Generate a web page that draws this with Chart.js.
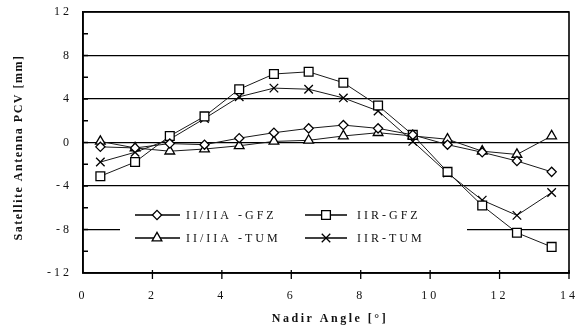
<!DOCTYPE html>
<html><head><meta charset="utf-8">
<script src="https://cdn.jsdelivr.net/npm/chart.js@4/dist/chart.umd.min.js"></script>
<style>html,body{margin:0;padding:0;background:#fff}#wrap{width:577px;height:335px;position:relative}</style>
</head><body><div id="wrap"><canvas id="c"></canvas></div>
<script>
// ---- data ----
const nadirAngles = [0.5,1.5,2.5,3.5,4.5,5.5,6.5,7.5,8.5,9.5,10.5,11.5,12.5,13.5];
const iiGfz  = [-0.4,-0.5,-0.1,-0.2,0.4,0.9,1.3,1.6,1.3,0.7,-0.2,-0.9,-1.7,-2.7];
const iirGfz = [-3.1,-1.8,0.6,2.4,4.9,6.3,6.5,5.5,3.4,0.7,-2.7,-5.8,-8.3,-9.6];
const iiTum  = [0.1,-0.5,-0.8,-0.6,-0.3,0.1,0.2,0.6,0.9,0.6,0.3,-0.8,-1.1,0.6];
const iirTum = [-1.8,-0.9,0.3,2.2,4.2,5.0,4.9,4.1,2.9,0.1,-2.8,-5.3,-6.7,-4.6];
const seriesNames = ['II/IIA -GFZ','IIR-GFZ','II/IIA -TUM','IIR-TUM'];
const xAxisTitle = 'Nadir Angle [°]';
const yAxisTitle = 'Satellite Antenna PCV [mm]';
const xRange = [0,14];
const yRange = [-12,12];

const pts = arr => arr.map((v,i)=>({x:nadirAngles[i], y:v}));
const styles = ['rectRot','rect','triangle','crossRot'];
const radii = [4.6,6.2,5.6,6];
const values = [iiGfz, iirGfz, iiTum, iirTum];

const datasets = values.map((v,i)=>({
  label: seriesNames[i],
  data: pts(v),
  borderColor:'#1a1a1a',
  borderWidth:1,
  pointStyle: styles[i],
  pointRadius: radii[i],
  pointBorderWidth:1.3,
  pointBorderColor:'#000',
  pointBackgroundColor:'#fff',
  tension:0
}));

function drawMarker(ctx, style, r, x, y){
  ctx.beginPath();
  if(style==='rectRot'){ ctx.moveTo(x-r,y); ctx.lineTo(x,y-r); ctx.lineTo(x+r,y); ctx.lineTo(x,y+r); ctx.closePath(); }
  else if(style==='rect'){ const s=Math.SQRT1_2*r; ctx.rect(x-s,y-s,2*s,2*s); }
  else if(style==='triangle'){
    for(let k=0;k<3;k++){ const a=k*2*Math.PI/3; const px=x+Math.sin(a)*r, py=y-Math.cos(a)*r; k?ctx.lineTo(px,py):ctx.moveTo(px,py);} ctx.closePath(); }
  if(style!=='crossRot'){ ctx.fillStyle='#fff'; ctx.fill(); ctx.stroke(); }
  else { const s=Math.SQRT1_2*r; ctx.moveTo(x-s,y-s); ctx.lineTo(x+s,y+s); ctx.moveTo(x+s,y-s); ctx.lineTo(x-s,y+s); ctx.stroke(); }
}

const framePlugin = {
  id:'frame',
  beforeDraw(chart){ chart.ctx.letterSpacing='3px'; },
  afterDraw(chart){
    const {ctx, chartArea:a, scales} = chart;
    const xs = scales.x, ys = scales.y;
    ctx.save();
    ctx.letterSpacing='0px';
    ctx.strokeStyle='#000';
    ctx.lineWidth=1.6;
    ctx.strokeRect(a.left,a.top,a.right-a.left,a.bottom-a.top);
    // tick marks
    ctx.lineWidth=1.3;
    ctx.beginPath();
    for(let v=yRange[0]+2; v<yRange[1]; v+=2){ const p=ys.getPixelForValue(v); ctx.moveTo(a.left,p); ctx.lineTo(a.left+5,p); }
    for(let v=xRange[0]+2; v<=xRange[1]; v+=2){ const p=xs.getPixelForValue(v); ctx.moveTo(p,a.bottom-3); ctx.lineTo(p,a.bottom+6); }
    ctx.stroke();
    // legend
    const lx0=a.left+37, lx1=a.left+384, ly0=a.top+192, ly1=a.top+240;
    ctx.fillStyle='#fff';
    ctx.fillRect(lx0,ly0,lx1-lx0,ly1-ly0);
    const cols=[{l0:a.left+52,l1:a.left+97,m:a.left+74,t:a.left+103},{l0:a.left+222,l1:a.left+264,m:a.left+243,t:a.left+274}];
    const rows=[a.top+203,a.top+226];
    const legR=[4.6,6.2,5.6,6];
    seriesNames.forEach((name,i)=>{
      const c=cols[i%2], yy=rows[Math.floor(i/2)];
      ctx.strokeStyle='#000'; ctx.lineWidth=1.4;
      ctx.beginPath(); ctx.moveTo(c.l0,yy); ctx.lineTo(c.l1,yy); ctx.stroke();
      ctx.lineWidth=1.3;
      drawMarker(ctx, styles[i], legR[i], c.m, yy);
      ctx.fillStyle='#111';
      ctx.font='12px "Liberation Serif"';
      ctx.letterSpacing='3px';
      ctx.textAlign='left'; ctx.textBaseline='middle';
      ctx.fillText(name, c.t, yy+1);
    });
    // axis titles
    ctx.fillStyle='#111';
    ctx.font='bold 12px "Liberation Serif"';
    ctx.letterSpacing='2.5px';
    ctx.textAlign='center'; ctx.textBaseline='middle';
    ctx.fillText(xAxisTitle, (a.left+a.right)/2+4, 319);
    ctx.save();
    ctx.translate(19,(a.top+a.bottom)/2+5);
    ctx.rotate(-Math.PI/2);
    ctx.letterSpacing='1.5px';
    ctx.fillText(yAxisTitle,0,0);
    ctx.restore();
    ctx.restore();
    ctx.letterSpacing='3px';
  }
};

new Chart(document.getElementById('c'), {
  type:'line',
  data:{datasets},
  options:{
    responsive:true, maintainAspectRatio:false, animation:false,
    layout:{padding:{top:12,right:8,left:0,bottom:0}},
    plugins:{legend:{display:false}, tooltip:{enabled:false}},
    scales:{
      x:{type:'linear', min:xRange[0], max:xRange[1],
        ticks:{stepSize:2, color:'#111', font:{family:'Liberation Serif', size:12}, padding:16, maxRotation:0},
        grid:{display:false, drawTicks:false},
        border:{display:true,color:'#000',width:1.6},
        afterFit(s){ s.height=62; s.paddingLeft=0; s.paddingRight=0; }
      },
      y:{min:yRange[0], max:yRange[1],
        ticks:{stepSize:2, color:'#111', font:{family:'Liberation Serif', size:12}, padding:11,
          callback:v=> (v%4===0 ? String(v) : '')},
        grid:{drawTicks:false, lineWidth:1.3, color:c=> (c.tick && c.tick.value%4===0 ? '#000' : 'rgba(0,0,0,0)')},
        border:{display:true,color:'#000',width:1.6},
        afterFit(s){ s.width=83; s.paddingTop=0; s.paddingBottom=0; }
      }
    }
  },
  plugins:[framePlugin]
});
</script></body></html>
